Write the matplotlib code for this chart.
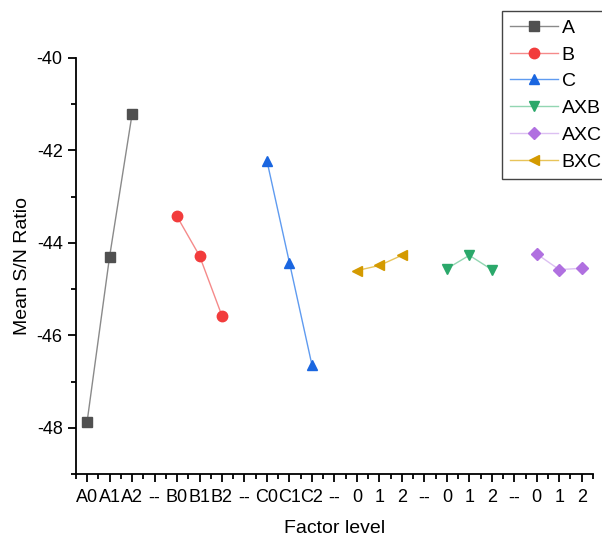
import matplotlib.pyplot as plt
from matplotlib.ticker import MultipleLocator

plt.rcParams['font.family'] = ['Liberation Sans', 'DejaVu Sans']
plt.rcParams['axes.unicode_minus'] = False

# tick labels along the x axis (one slot per label)
tick_labels = ['A0', 'A1', 'A2', '--', 'B0', 'B1', 'B2', '--', 'C0', 'C1', 'C2', '--',
               '0', '1', '2', '--', '0', '1', '2', '--', '0', '1', '2']

# mean S/N ratio per factor level
a_vals = [-47.87, -44.30, -41.22]
b_vals = [-43.43, -44.28, -45.58]
c_vals = [-42.23, -44.43, -46.64]
axb_vals = [-44.56, -44.27, -44.58]
axc_vals = [-44.24, -44.58, -44.55]
bxc_vals = [-44.60, -44.49, -44.27]

# slot where each group starts
a_start, b_start, c_start = 1, 5, 9
bxc_start, axb_start, axc_start = 13, 17, 21

series = [
    ('A', a_vals, a_start, 's', '#505050', '#8a8a8a'),
    ('B', b_vals, b_start, 'o', '#f23c3c', '#f58a8a'),
    ('C', c_vals, c_start, '^', '#1a66e0', '#5f9bf0'),
    ('AXB', axb_vals, axb_start, 'v', '#2aa86a', '#92d6b2'),
    ('AXC', axc_vals, axc_start, 'D', '#b070e0', '#dcc0f2'),
    ('BXC', bxc_vals, bxc_start, '<', '#d49a00', '#e8c45a'),
]

fig = plt.figure(figsize=(6.02, 5.4), dpi=100)
ax = fig.add_axes([0.126, 0.122, 0.859, 0.771])

for name, vals, start, mk, mc, lc in series:
    xs = list(range(start, start + len(vals)))
    ms = 6.5 if mk == 'D' else 7.5
    ax.plot(xs, vals, color=lc, linewidth=1.0, marker=mk, markersize=ms,
            markerfacecolor=mc, markeredgecolor=mc, label=name)

ax.set_xlim(0.5, 23.5)
ax.set_ylim(-49, -40)
ax.set_xticks(range(1, len(tick_labels) + 1))
ax.set_xticklabels(tick_labels)
ax.xaxis.set_minor_locator(MultipleLocator(0.5))
ax.yaxis.set_major_locator(MultipleLocator(2))
ax.yaxis.set_minor_locator(MultipleLocator(1))

for s in ['top', 'right']:
    ax.spines[s].set_visible(False)
for s in ['left', 'bottom']:
    ax.spines[s].set_linewidth(1.3)

ax.tick_params(axis='both', which='major', direction='out', length=6, width=1.3, labelsize=13)
ax.tick_params(axis='both', which='minor', direction='out', length=3.5, width=1.3)
ax.tick_params(axis='x', which='major', pad=5)

ax.set_xlabel('Factor level', fontsize=14, labelpad=10)
ax.set_ylabel('Mean S/N Ratio', fontsize=14, labelpad=4)

leg = ax.legend(loc='upper left', bbox_to_anchor=(502 / 602, 1 - 11 / 540),
                bbox_transform=fig.transFigure, fontsize=14, frameon=True,
                fancybox=False, edgecolor='#444444', framealpha=1,
                handlelength=2.45, handletextpad=0.2, labelspacing=0.47,
                borderpad=0.42, borderaxespad=0)
leg.get_frame().set_linewidth(1.0)

fig.savefig('out.png', dpi=100)
